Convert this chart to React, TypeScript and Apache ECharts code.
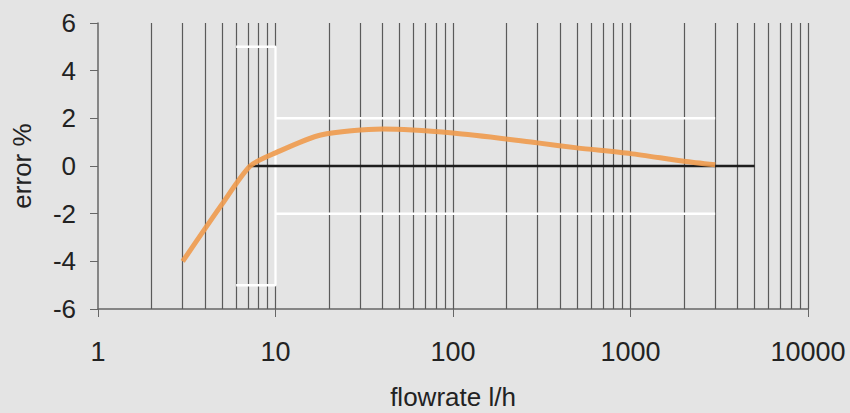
import React, { useEffect, useRef } from "react";
import * as echarts from "echarts";

// Measured curve (flowrate l/h vs error %)
const flowrate = [3, 5, 7.2, 10, 18, 40, 100, 300, 500, 1000, 2000, 3000];
const errorPct = [-4.0, -1.6, 0, 0.55, 1.3, 1.55, 1.38, 0.97, 0.76, 0.52, 0.2, 0.05];

// Error limit envelope
const startLimitX = [6, 10, 10, 6];
const startLimitY = [5, 5, -5, -5];
const bandLimitX = [10, 3000];
const upperLimitY = [2, 2];
const lowerLimitY = [-2, -2];

// Zero reference line
const zeroLineX = [7, 5000];
const zeroLineY = [0, 0];

// Log grid lines
const gridDecades = [1, 10, 100, 1000];
const gridSteps = [2, 3, 4, 5, 6, 7, 8, 9, 10];

// Axis ranges / ticks
const xMin = 1;
const xMax = 10000;
const yMin = -6;
const yMax = 6;
const yStep = 2;

const pairs = (xs: number[], ys: number[]) => xs.map((x, i) => [x, ys[i]]);

export default function App() {
  const ref = useRef<HTMLDivElement>(null);
  useEffect(() => {
    if (!ref.current) return;
    const chart = echarts.init(ref.current, undefined, { renderer: "svg" });
    const gridValues: number[] = [];
    gridDecades.forEach((d) => gridSteps.forEach((s) => gridValues.push(d * s)));
    const font = "'Liberation Sans', Arial, Helvetica, sans-serif";
    const whiteLine = {
      type: "line",
      symbol: "none",
      silent: true,
      z: 3,
      lineStyle: { color: "#ffffff", width: 2.5 },
    };
    chart.setOption({
      animation: false,
      backgroundColor: "#e4e4e4",
      grid: {
        left: 98,
        right: 42,
        top: 23,
        bottom: 104,
        containLabel: false,
        outerBoundsMode: "none",
      },
      xAxis: {
        type: "log",
        logBase: 10,
        min: xMin,
        max: xMax,
        name: "flowrate l/h",
        nameLocation: "middle",
        nameGap: 75,
        nameTextStyle: { fontFamily: font, fontSize: 26, color: "#222" },
        axisLine: { show: true, onZero: false, lineStyle: { color: "#666", width: 1.5 } },
        axisTick: { show: true, length: 8, lineStyle: { color: "#666" } },
        axisLabel: {
          fontFamily: font,
          fontSize: 27,
          color: "#222",
          margin: 29,
          formatter: (v: number) => String(Math.round(v)),
        },
        splitLine: { show: false },
      },
      yAxis: {
        type: "value",
        min: yMin,
        max: yMax,
        interval: yStep,
        name: "error %",
        nameLocation: "middle",
        nameGap: 63,
        nameTextStyle: { fontFamily: font, fontSize: 26, color: "#222" },
        axisLine: { show: true, onZero: false, lineStyle: { color: "#666", width: 1.5 } },
        axisTick: { show: true, length: 8, lineStyle: { color: "#666" } },
        axisLabel: { fontFamily: font, fontSize: 26, color: "#222", margin: 22 },
        splitLine: { show: false },
      },
      series: [
        {
          type: "line",
          data: [],
          silent: true,
          z: 1,
          markLine: {
            z: 1,
            silent: true,
            symbol: "none",
            label: { show: false },
            lineStyle: { color: "#5a5a5a", width: 1.2, type: "solid" },
            data: gridValues.map((v) => ({ xAxis: v })),
          },
        },
        { ...whiteLine, data: pairs(startLimitX, startLimitY) },
        { ...whiteLine, data: pairs(bandLimitX, upperLimitY) },
        { ...whiteLine, data: pairs(bandLimitX, lowerLimitY) },
        {
          type: "line",
          symbol: "none",
          silent: true,
          z: 4,
          data: pairs(zeroLineX, zeroLineY),
          lineStyle: { color: "#1e1e1e", width: 2.5 },
        },
        {
          type: "line",
          symbol: "none",
          silent: true,
          z: 5,
          smooth: 0.25,
          data: pairs(flowrate, errorPct),
          lineStyle: { color: "#ee9a4c", width: 5, opacity: 0.9 },
        },
      ],
    });
    return () => chart.dispose();
  }, []);
  return (
    <div
      ref={ref}
      style={{ position: "fixed", left: 0, top: 0, width: 850, height: 413 }}
    />
  );
}
